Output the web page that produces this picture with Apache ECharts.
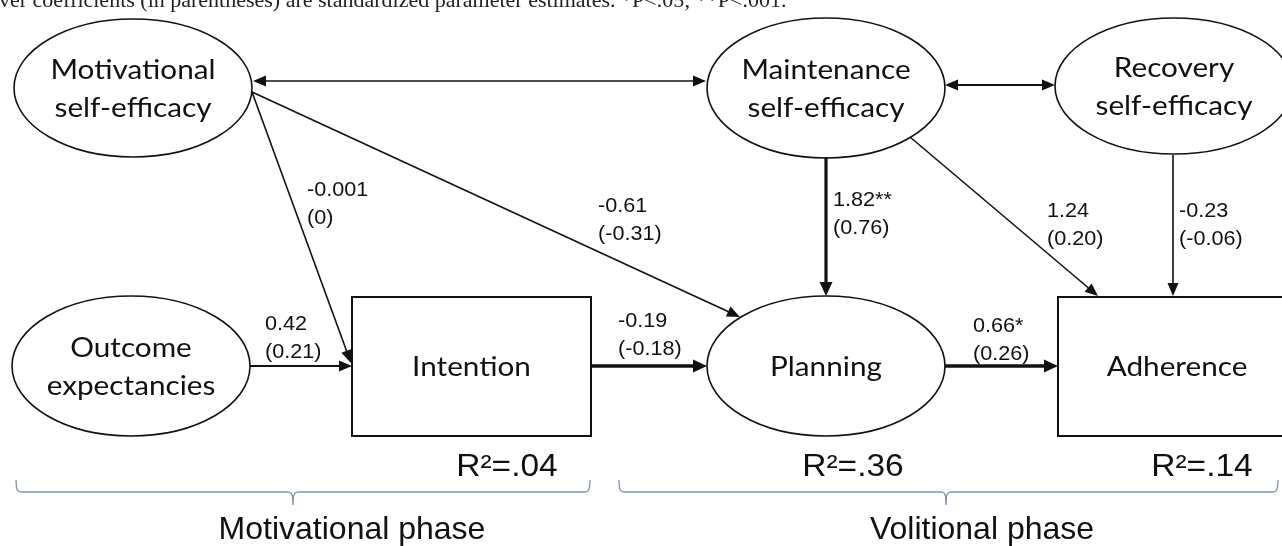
<!DOCTYPE html>
<html><head><meta charset="utf-8">
<script src="https://cdn.jsdelivr.net/npm/echarts@6/dist/echarts.min.js"></script>
<style>html,body{margin:0;padding:0;background:#fff}#c{width:1282px;height:546px}</style>
</head><body><div id="c"></div>
<script>
// ---------- data ----------
const nodeNames = ['Motivational\nself-efficacy', 'Maintenance\nself-efficacy', 'Recovery\nself-efficacy',
  'Outcome\nexpectancies', 'Intention', 'Planning', 'Adherence'];
const nodeShapes = ['ellipse', 'ellipse', 'ellipse', 'ellipse', 'rect', 'ellipse', 'rect'];
const pathFrom = [0, 1, 0, 0, 3, 4, 1, 1, 2, 5];
const pathTo   = [1, 2, 4, 5, 4, 5, 5, 6, 6, 6];
const pathDouble = [true, true, false, false, false, false, false, false, false, false];
const coefficients = ['', '', '-0.001', '-0.61', '0.42', '-0.19', '1.82**', '1.24', '-0.23', '0.66*'];
const standardized = ['', '', '(0)', '(-0.31)', '(0.21)', '(-0.18)', '(0.76)', '(0.20)', '(-0.06)', '(0.26)'];
const rSquaredNodes = [4, 5, 6];
const rSquaredValues = ['.04', '.36', '.14'];
const phaseNames = ['Motivational phase', 'Volitional phase'];
const captionText = 'ver coefficients (in parentheses) are standardized parameter estimates. *P<.05; **P<.001.';

// ---------- layout (data coordinates of the canvas) ----------
const nodeLayout = [ // cx, cy, w, h
  [133, 88, 238, 138], [826, 88, 238, 140], [1174, 86, 238, 136],
  [131, 366, 238, 140], [471.5, 366.5, 239, 139], [826, 366, 238, 140], [1177, 366.5, 238, 139]];
const pathLayout = [ // x1, y1, x2, y2, lineWidth, labelX, labelY
  [253, 81, 706, 81, 1.6, 0, 0],
  [945, 85, 1055, 85, 2, 0, 0],
  [252, 92, 351, 363, 1.6, 307, 187],
  [252, 92, 740, 317, 1.6, 598, 203],
  [250, 366, 352, 366, 1.8, 265, 321],
  [591, 366, 707, 366, 3.6, 618, 318],
  [826, 157, 826, 296, 3.2, 833, 197],
  [910, 137, 1098, 296, 1.6, 1047, 208],
  [1173, 155, 1173, 296, 1.6, 1179, 208],
  [945, 366, 1058, 366, 3.6, 973, 323]];
const rSquaredLayout = [[507, 467], [853, 467], [1202, 467]];
const phaseLayout = [ // x1, x2, tickX, yTop, yLine, yTick, labelX, labelY
  [16, 590, 293, 480, 492, 505, 352, 530],
  [619, 1278, 946, 480, 492, 505, 982, 530]];

const INK = '#111';
const chart = echarts.init(document.getElementById('c'), null, {renderer: 'canvas'});

function arrowHead(p1, p2, len, hw) {
  const dx = p2[0] - p1[0], dy = p2[1] - p1[1];
  const L = Math.hypot(dx, dy), ux = dx / L, uy = dy / L;
  const bx = p2[0] - ux * len, by = p2[1] - uy * len;
  return {pts: [[p2[0], p2[1]], [bx - uy * hw, by + ux * hw], [bx + uy * hw, by - ux * hw]], base: [bx + ux * 1, by + uy * 1]};
}

const option = {
  animation: false,
  grid: {left: 0, right: 0, top: 0, bottom: 0},
  xAxis: {type: 'value', min: 0, max: 1282, show: false},
  yAxis: {type: 'value', min: 0, max: 546, inverse: true, show: false},
  graphic: [{
    type: 'text', x: -1, y: 1,
    style: {text: captionText, font: '22px "Liberation Serif"', fill: '#222', align: 'left', verticalAlign: 'middle'}
  }],
  series: [
    { // nodes
      type: 'custom', name: 'nodes',
      data: nodeNames.map((n, i) => [nodeLayout[i][0], nodeLayout[i][1]]),
      encode: {x: 0, y: 1},
      renderItem(params, api) {
        const i = params.dataIndex;
        const L = nodeLayout[i];
        const c = api.coord([L[0], L[1]]);
        const s = api.size([L[2], L[3]]).map(Math.abs);
        const children = [];
        if (nodeShapes[i] === 'ellipse') {
          children.push({type: 'ellipse', shape: {cx: c[0], cy: c[1], rx: s[0] / 2, ry: s[1] / 2},
            style: {fill: '#fff', stroke: INK, lineWidth: 1.6}});
        } else {
          children.push({type: 'rect', shape: {x: c[0] - s[0] / 2, y: c[1] - s[1] / 2, width: s[0], height: s[1]},
            style: {fill: '#fff', stroke: INK, lineWidth: 2}});
        }
        children.push({type: 'text', x: c[0], y: c[1] + 1, scaleX: 1.1,
          style: {text: nodeNames[i], font: '27px Lato', fill: INK, align: 'center', verticalAlign: 'middle', lineHeight: 38}});
        return {type: 'group', children};
      }
    },
    { // paths
      type: 'custom', name: 'paths',
      data: pathFrom.map((f, i) => [pathLayout[i][0], pathLayout[i][1]]),
      encode: {x: 0, y: 1},
      z: 3,
      renderItem(params, api) {
        const i = params.dataIndex;
        const L = pathLayout[i];
        const p1 = api.coord([L[0], L[1]]);
        const p2 = api.coord([L[2], L[3]]);
        const lw = L[4];
        const len = lw > 2.5 ? 14 : 13, hw = lw > 2.5 ? 6.5 : 5.5;
        const children = [];
        const a2 = arrowHead(p1, p2, len, hw);
        let s = p1;
        if (pathDouble[i]) {
          const a1 = arrowHead(p2, p1, len, hw);
          s = a1.base;
          children.push({type: 'polygon', shape: {points: a1.pts}, style: {fill: INK}});
        }
        children.push({type: 'line', shape: {x1: s[0], y1: s[1], x2: a2.base[0], y2: a2.base[1]},
          style: {stroke: INK, lineWidth: lw}});
        children.push({type: 'polygon', shape: {points: a2.pts}, style: {fill: INK}});
        if (coefficients[i]) {
          const lp = api.coord([L[5], L[6]]);
          children.push({type: 'text', x: lp[0], y: lp[1], scaleX: 1.08,
            style: {text: coefficients[i] + '\n' + standardized[i], font: '20px "Liberation Sans"', fill: INK,
              align: 'left', verticalAlign: 'top', lineHeight: 28.5, y: -11}});
        }
        return {type: 'group', children};
      }
    },
    { // R squared
      type: 'custom', name: 'r2',
      data: rSquaredValues.map((v, i) => [rSquaredLayout[i][0], rSquaredLayout[i][1]]),
      encode: {x: 0, y: 1},
      renderItem(params, api) {
        const i = params.dataIndex;
        const c = api.coord(rSquaredLayout[i]);
        return {type: 'text', x: c[0], y: c[1], scaleX: 1.08,
          style: {text: 'R\u00B2=' + rSquaredValues[i], font: '31px "Liberation Sans"', fill: INK, align: 'center', verticalAlign: 'middle'}};
      }
    },
    { // phases
      type: 'custom', name: 'phases',
      data: phaseNames.map((n, i) => [phaseLayout[i][6], phaseLayout[i][7]]),
      encode: {x: 0, y: 1},
      renderItem(params, api) {
        const i = params.dataIndex;
        const P = phaseLayout[i];
        const a = api.coord([P[0], P[3]]), b = api.coord([P[1], P[4]]);
        const t = api.coord([P[2], P[5]]);
        const yl = b[1];
        const pts = [[a[0], a[1]], [a[0] + 0.5, yl - 4], [a[0] + 2, yl - 1], [a[0] + 5, yl],
          [t[0] - 5, yl], [t[0] - 2, yl + 1], [t[0] - 0.5, yl + 4], [t[0], t[1]],
          [t[0] + 0.5, yl + 4], [t[0] + 2, yl + 1], [t[0] + 5, yl],
          [b[0] - 5, yl], [b[0] - 2, yl - 1], [b[0] - 0.5, yl - 4], [b[0], a[1]]];
        const lp = api.coord([P[6], P[7]]);
        return {type: 'group', children: [
          {type: 'polyline', shape: {points: pts}, style: {stroke: '#7f93b0', lineWidth: 1.3, fill: null}},
          {type: 'text', x: lp[0], y: lp[1], scaleX: 1.0,
            style: {text: phaseNames[i], font: '32px "Liberation Sans"', fill: INK, align: 'center', verticalAlign: 'middle'}}
        ]};
      }
    }
  ]
};
chart.setOption(option);
</script>
</body></html>
